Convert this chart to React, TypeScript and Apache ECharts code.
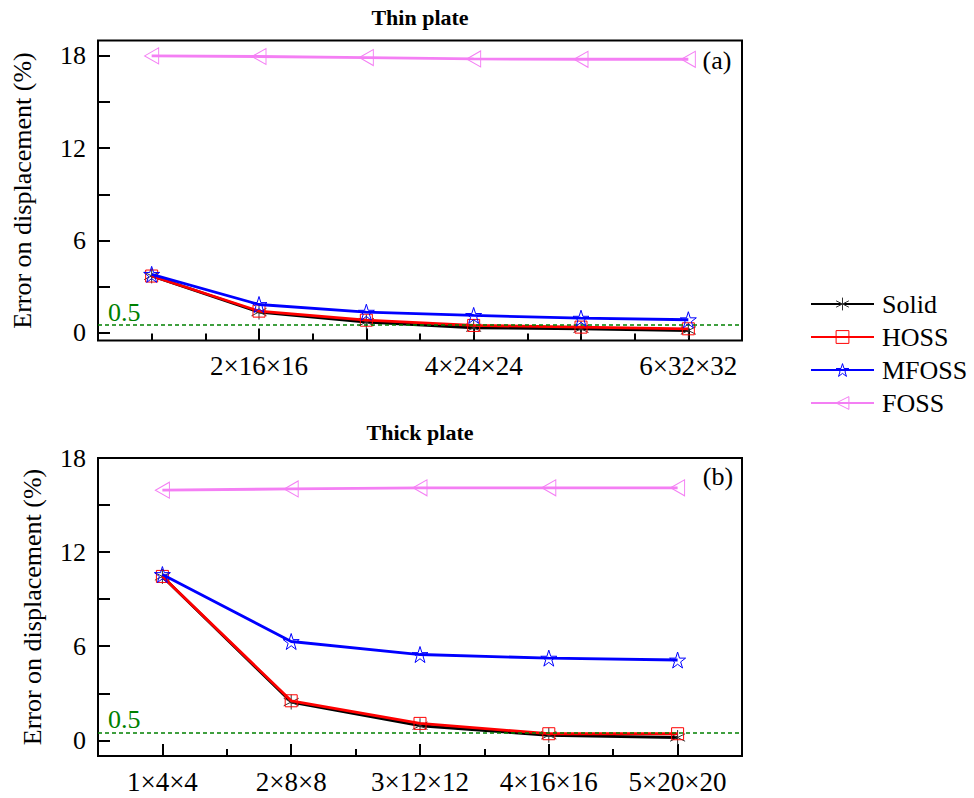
import React, { useEffect, useRef } from 'react';
import * as echarts from 'echarts';

const FONT = "'Liberation Serif', 'Times New Roman', serif";

const seriesNames = ['Solid', 'HOSS', 'MFOSS', 'FOSS'];
const seriesColors = ['#000000', '#ff0000', '#0000ff', '#f47ff4'];

// Thin plate (a)
const thinCategories = ['1×12×12', '2×16×16', '3×20×20', '4×24×24', '5×28×28', '6×32×32'];
const thinLabelPositions = [2, 4, 6];
const thinSolid = [3.7, 1.35, 0.7, 0.33, 0.26, 0.15];
const thinHOSS = [3.69, 1.41, 0.82, 0.48, 0.37, 0.26];
const thinMFOSS = [3.8, 1.84, 1.34, 1.13, 0.95, 0.85];
const thinFOSS = [18.0, 17.96, 17.89, 17.8, 17.78, 17.78];

// Thick plate (b)
const thickCategories = ['1×4×4', '2×8×8', '3×12×12', '4×16×16', '5×20×20'];
const thickSolid = [10.45, 2.44, 0.93, 0.32, 0.18];
const thickHOSS = [10.45, 2.52, 1.08, 0.42, 0.42];
const thickMFOSS = [10.57, 6.3, 5.47, 5.24, 5.12];
const thickFOSS = [15.95, 16.03, 16.1, 16.1, 16.1];

const yTicks = [0, 3, 6, 9, 12, 15, 18];
const yLabels = [0, 6, 12, 18];
const thresholdValue = 0.5;

const ASTERISK = 'path://M0,-10 L0,10 M-8.66,-5 L8.66,5 M-8.66,5 L8.66,-5';
const SQUARE = 'path://M0,0 L10,0 L10,10 L0,10 Z';
const STAR =
  'path://M0,-10 L2.245,-3.09 L9.51,-3.09 L3.633,1.18 L5.878,8.09 L0,3.82 L-5.878,8.09 L-3.633,1.18 L-9.51,-3.09 L-2.245,-3.09 Z';
const LTRI = 'path://M0,5 L10,0 L10,10 Z';
const symbols = [ASTERISK, SQUARE, STAR, LTRI];
const symbolSizes: any[] = [15, 12, 16, [14, 16]];
const markerColors = ['#333333', '#ff0000', '#0000ff', '#f47ff4'];
const lineWidths = [2.8, 2.8, 2.8, 2.8];

function toXY(values: number[]) {
  return values.map((v, i) => [i + 1, v]);
}

function makeSeries(idx: number, values: number[], axisIndex: number, withMark: boolean) {
  const s: any = {
    name: seriesNames[idx],
    type: 'line',
    xAxisIndex: axisIndex,
    yAxisIndex: axisIndex,
    data: toXY(values),
    symbol: symbols[idx],
    symbolSize: symbolSizes[idx],
    showAllSymbol: true,
    lineStyle: { color: seriesColors[idx], width: lineWidths[idx] },
    itemStyle: { color: 'rgba(0,0,0,0)', borderColor: markerColors[idx], borderWidth: 1 },
    emphasis: { disabled: true },
    z: 3 + idx,
  };
  if (withMark) {
    s.markLine = {
      silent: true,
      symbol: 'none',
      data: [{ yAxis: thresholdValue }],
      lineStyle: { color: '#008000', type: [4, 3], width: 1.5 },
      label: {
        show: true,
        position: 'insideStartTop',
        formatter: String(thresholdValue),
        color: '#008000',
        fontSize: 26,
        fontFamily: FONT,
        distance: [10, 0],
      },
    };
  }
  return s;
}

function xAxisMajor(gridIndex: number, max: number, ticks: number[], labels: number[], cats: string[]) {
  return {
    type: 'value',
    gridIndex,
    min: 0.5,
    max,
    axisLine: { show: false, onZero: false },
    splitLine: { show: false },
    axisTick: {
      show: true,
      inside: true,
      length: 12,
      customValues: ticks,
      lineStyle: { color: '#000', width: 2 },
    },
    axisLabel: {
      show: true,
      customValues: labels,
      formatter: (v: number) => cats[Math.round(v) - 1] || '',
      fontSize: 27,
      fontFamily: FONT,
      color: '#000',
      margin: 12,
    },
  };
}

function xAxisMinor(gridIndex: number, max: number, ticks: number[]) {
  return {
    type: 'value',
    gridIndex,
    min: 0.5,
    max,
    axisLine: { show: false, onZero: false },
    splitLine: { show: false },
    axisTick: {
      show: true,
      inside: true,
      length: 7,
      customValues: ticks,
      lineStyle: { color: '#000', width: 2 },
    },
    axisLabel: { show: false },
  };
}

function yAxisMain(gridIndex: number, min: number, max: number, nameGap: number) {
  return {
    type: 'value',
    gridIndex,
    min,
    max,
    name: 'Error on displacement (%)',
    nameLocation: 'middle',
    nameRotate: 90,
    nameGap,
    nameTextStyle: { fontSize: 26, fontFamily: FONT, color: '#000' },
    axisLine: { show: false, onZero: false },
    splitLine: { show: false },
    axisTick: {
      show: true,
      inside: true,
      length: 12,
      customValues: yTicks,
      lineStyle: { color: '#000', width: 2 },
    },
    axisLabel: {
      show: true,
      customValues: yLabels,
      fontSize: 26,
      fontFamily: FONT,
      color: '#000',
      margin: 12,
    },
  };
}

function yAxisHidden(gridIndex: number, min: number, max: number) {
  return { type: 'value', gridIndex, min, max, show: false };
}

export default function App() {
  const ref = useRef<HTMLDivElement>(null);
  useEffect(() => {
    if (!ref.current) return;
    const chart = echarts.init(ref.current, undefined, { renderer: 'svg' });
    const gridA = { left: 98, top: 40.5, width: 644, height: 300 };
    const gridB = { left: 98, top: 458, width: 644, height: 298 };
    const option: any = {
      animation: false,
      backgroundColor: '#fff',
      grid: [
        { ...gridA, show: true, borderColor: '#000', borderWidth: 2, backgroundColor: 'transparent' },
        { ...gridB, show: true, borderColor: '#000', borderWidth: 2, backgroundColor: 'transparent' },
        { ...gridA, show: false },
        { ...gridB, show: false },
      ],
      xAxis: [
        xAxisMajor(0, 6.5, [2, 3, 4, 5, 6], thinLabelPositions, thinCategories),
        xAxisMajor(1, 5.5, [1, 2, 3, 4, 5], [1, 2, 3, 4, 5], thickCategories),
        xAxisMinor(2, 6.5, [1, 1.5, 2.5, 3.5, 4.5, 5.5]),
        xAxisMinor(3, 5.5, [1.5, 2.5, 3.5, 4.5]),
      ],
      yAxis: [
        yAxisMain(0, -0.5, 19, 63),
        yAxisMain(1, -1, 18, 53),
        yAxisHidden(2, -0.5, 19),
        yAxisHidden(3, -1, 18),
      ],
      legend: {
        orient: 'vertical',
        left: 805,
        top: 286,
        itemWidth: 63,
        itemHeight: 16,
        itemGap: 7,
        selectedMode: false,
        data: seriesNames,
        itemStyle: { color: 'rgba(0,0,0,0)', borderWidth: 1 },
        textStyle: { fontSize: 26, fontFamily: FONT, color: '#000', padding: [0, 0, 0, 3] },
      },
      graphic: [
        {
          type: 'text',
          x: 420,
          y: 17,
          style: { text: 'Thin plate', align: 'center', verticalAlign: 'middle', font: `bold 22px ${FONT}`, fill: '#000' },
        },
        {
          type: 'text',
          x: 420,
          y: 432,
          style: { text: 'Thick plate', align: 'center', verticalAlign: 'middle', font: `bold 22px ${FONT}`, fill: '#000' },
        },
        {
          type: 'text',
          x: 717,
          y: 60,
          style: { text: '(a)', align: 'center', verticalAlign: 'middle', font: `26px ${FONT}`, fill: '#000' },
        },
        {
          type: 'text',
          x: 718,
          y: 476,
          style: { text: '(b)', align: 'center', verticalAlign: 'middle', font: `26px ${FONT}`, fill: '#000' },
        },
      ],
      series: [
        makeSeries(0, thinSolid, 0, true),
        makeSeries(1, thinHOSS, 0, false),
        makeSeries(2, thinMFOSS, 0, false),
        makeSeries(3, thinFOSS, 0, false),
        makeSeries(0, thickSolid, 1, true),
        makeSeries(1, thickHOSS, 1, false),
        makeSeries(2, thickMFOSS, 1, false),
        makeSeries(3, thickFOSS, 1, false),
      ],
    };
    chart.setOption(option);
    return () => chart.dispose();
  }, []);
  return (
    <div
      ref={ref}
      style={{ position: 'fixed', left: 0, top: 0, width: 974, height: 798, background: '#fff' }}
    />
  );
}
